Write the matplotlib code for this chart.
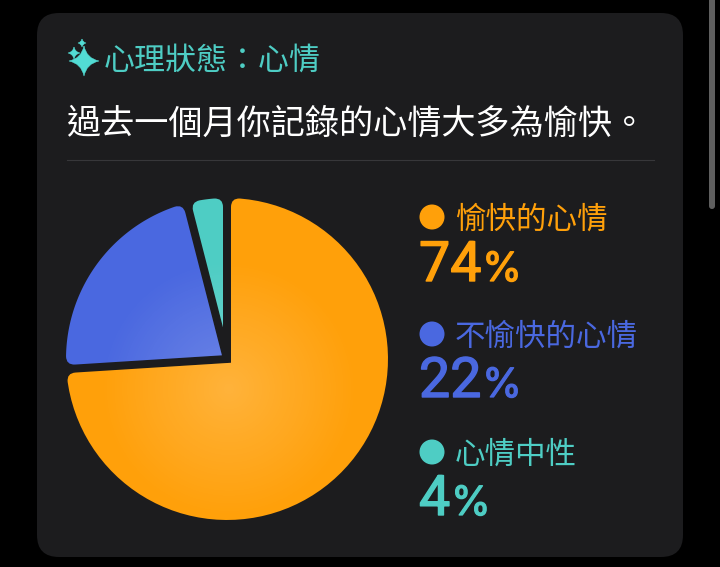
import numpy as np
import matplotlib
matplotlib.use('Agg')
from matplotlib import pyplot as plt
from matplotlib import patheffects as pe
from matplotlib.patches import FancyBboxPatch, PathPatch, Circle
from matplotlib.path import Path

plt.rcParams['font.family'] = ['Noto Sans CJK TC', 'DejaVu Sans']

header = '心理狀態：心情'
summary = '過去一個月你記錄的心情大多為愉快。'
categories = ['愉快的心情', '不愉快的心情', '心情中性']
shares = [74, 22, 4]
colors = ['#ffa00a', '#4a68e0', '#4ecdc4']

CARD = '#1c1c1e'
RADIUS = 161
GAP = 4
CORNER = 9


def slice_path(theta1, theta2):
    # wedge pulled in from both sides, outer corners rounded, inner tip sharp
    half = np.radians(theta2 - theta1) / 2
    mid = np.radians(theta1 + theta2) / 2
    tip = GAP / np.sin(half) * np.array([np.cos(mid), np.sin(mid)])
    step = np.arcsin(GAP / RADIUS)
    a1, a2 = np.radians(theta1) + step, np.radians(theta2) - step
    da = CORNER / RADIUS

    def on_rim(a):
        return RADIUS * np.array([np.cos(a), np.sin(a)])

    def along(a):
        p = on_rim(a)
        return tip + (p - tip) * (1 - CORNER / np.linalg.norm(p - tip))

    arc = np.linspace(a1 + da, a2 - da, 80)
    verts = [tip, along(a1), on_rim(a1), on_rim(a1 + da)]
    codes = [Path.MOVETO, Path.LINETO, Path.CURVE3, Path.CURVE3]
    for a in arc[1:]:
        verts.append(on_rim(a))
        codes.append(Path.LINETO)
    verts += [on_rim(a2), along(a2), tip]
    codes += [Path.CURVE3, Path.CURVE3, Path.CLOSEPOLY]
    return Path(verts, codes)


def sparkle(ax, x, y, r, color):
    # four point star with a fat waist
    w = 0.17 * r
    tips = [(x, y - r), (x + r, y), (x, y + r), (x - r, y), (x, y - r)]
    ctrl = [(x + w, y - w), (x + w, y + w), (x - w, y + w), (x - w, y - w)]
    pts = [tips[0]]
    for c, t in zip(ctrl, tips[1:]):
        pts += [c, t]
    codes = [Path.MOVETO] + [Path.CURVE3] * 8
    ax.add_patch(PathPatch(Path(pts, codes), fc=color, ec=color, lw=0.4))


fig = plt.figure(figsize=(7.2, 5.67), dpi=100, facecolor='black')
renderer = fig.canvas.get_renderer()

# page axes in pixels, so layout can be read straight off the reference
page = fig.add_axes([0, 0, 1, 1])
page.set_xlim(0, 720)
page.set_ylim(567, 0)
page.axis('off')

page.add_patch(FancyBboxPatch((37 + 22, 13 + 22), 646 - 44, 544 - 44,
                              boxstyle='round,pad=22,rounding_size=22', fc=CARD, ec='none'))
page.add_patch(FancyBboxPatch((709, -10), 6, 219, boxstyle='round,pad=0,rounding_size=3',
                              fc='#5f5f5f', ec='none'))
page.plot([67, 654], [159.5, 159.5], color='#37373a', lw=0.8)

sparkle(page, 84, 61, 15, '#52dcd4')
sparkle(page, 74, 53, 6, '#52dcd4')
sparkle(page, 82, 43, 4, '#52dcd4')
page.text(104, 61, header, color=colors[2], fontsize=22.3, va='center', ha='left', fontweight='medium')
page.text(66, 124, summary, color='white', fontsize=24.6, va='center', ha='left', fontweight='medium')

# legend column
dot_y = [217, 334, 452]
label_y = [220, 337, 455]
value_y = [281, 397, 515]
for name, share, color, dy, ly, vy in zip(categories, shares, colors, dot_y, label_y, value_y):
    page.add_patch(Circle((432, dy), 12.5, fc=color, ec='none'))
    page.text(455, ly, name, color=color, fontsize=22, va='center', ha='left', fontweight='medium')
    num = page.text(419, vy, str(share), color=color, fontsize=40, va='baseline', ha='left',
                    family='Roboto', path_effects=[pe.withStroke(linewidth=1.0, foreground=color)])
    # the page axes run in figure pixels, so the extent can be used as x directly
    end_x = num.get_window_extent(renderer).x1
    page.text(end_x + 1, vy, '%', color=color, fontsize=29, va='baseline', ha='left', family='Inter',
              path_effects=[pe.withStroke(linewidth=0.9, foreground=color)])

# pie axes: one data unit is one pixel, centred on (227, 359)
half_box = 170
pie_ax = fig.add_axes([(227 - half_box) / 720, (567 - 359 - half_box) / 567,
                       2 * half_box / 720, 2 * half_box / 567])
pie_ax.patch.set_visible(False)
wedges, _ = pie_ax.pie(shares, colors=colors, startangle=90, counterclock=False, radius=RADIUS)

grid = np.linspace(-half_box, half_box, 340)
gx, gy = np.meshgrid(grid, grid)
glow = np.zeros(gx.shape + (4,))
glow[..., :3] = 1
glow[..., 3] = 0.2 * np.clip(1 - np.hypot(gx - 2, gy + 30) / 130, 0, 1)

for wedge, color in zip(wedges, colors):
    wedge.set_visible(False)
    shape = PathPatch(slice_path(wedge.theta1, wedge.theta2), fc=color, ec='none')
    pie_ax.add_patch(shape)
    im = pie_ax.imshow(glow, extent=(-half_box, half_box, -half_box, half_box), origin='lower',
                       interpolation='bilinear', zorder=3)
    im.set_clip_path(shape)

pie_ax.set_xlim(-half_box, half_box)
pie_ax.set_ylim(-half_box, half_box)
pie_ax.set_aspect('equal')
pie_ax.axis('off')

fig.savefig('out.png', dpi=100, facecolor='black')
